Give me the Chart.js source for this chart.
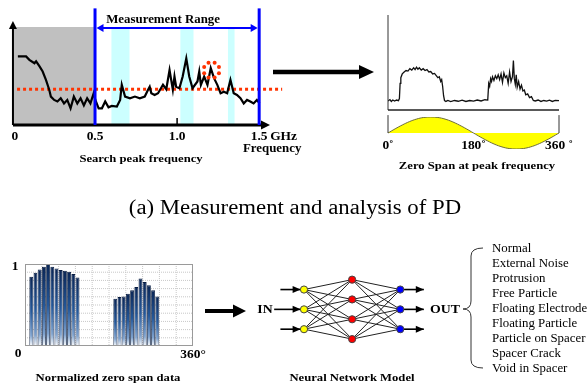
<!DOCTYPE html>
<html>
<head>
<meta charset="utf-8">
<script src="https://cdn.jsdelivr.net/npm/chart.js@4.4.1/dist/chart.umd.min.js"></script>
<style>
  body { margin: 0; background: #fff; }
  #page { position: relative; width: 587px; height: 383px; overflow: hidden; font-family: "Liberation Serif", "Times New Roman", serif; color: #000; }
  #page canvas, #page svg { position: absolute; }
  .lbl { position: absolute; white-space: nowrap; line-height: 1; transform: translate(-50%, -50%) scaleX(1.15); }
  .cap { font-weight: bold; font-size: 11px; }
  .cls { position: absolute; left: 492px; white-space: nowrap; line-height: 1; font-size: 12px; transform-origin: left center; transform: translateY(-50%) scaleX(1.07); }
</style>
</head>
<body>
<div id="page">
  <canvas id="spectrum" width="315" height="165" style="left:0;top:0"></canvas>
  <canvas id="zerospan" width="195" height="110" style="left:380px;top:5px"></canvas>
  <canvas id="phase" width="200" height="50" style="left:378px;top:108px"></canvas>
  <canvas id="normbars" width="205" height="102" style="left:5px;top:258px"></canvas>
  <canvas id="network" width="190" height="110" style="left:250px;top:255px"></canvas>
  <svg width="587" height="383" style="left:0;top:0">
    <line x1="273" y1="72" x2="362" y2="72" stroke="#000" stroke-width="4.5"/>
    <polygon points="374,72 359,65 359,79" fill="#000"/>
    <line x1="205" y1="311" x2="236" y2="311" stroke="#000" stroke-width="4"/>
    <polygon points="246,311 233,304.5 233,317.5" fill="#000"/>
    <path d="M483,248 Q471,248 471,256 L471,301 Q471,309 463,309 Q471,309 471,317 L471,360 Q471,368 483,368" fill="none" stroke="#333" stroke-width="1"/>
  </svg>
  <div class="lbl cap" style="left:141px;top:158px">Search peak frequency</div>
  <div class="lbl cap" style="left:477px;top:165px">Zero Span at peak frequency</div>
  <div class="lbl" style="left:295px;top:207px;font-size:20px;transform:translate(-50%,-50%) scaleX(1.14)">(a) Measurement and analysis of PD</div>
  <div class="lbl cap" style="left:108px;top:377px">Normalized zero span data</div>
  <div class="lbl cap" style="left:352px;top:377px">Neural Network Model</div>
  <div class="lbl cap" style="left:265px;top:309px;font-size:12px">IN</div>
  <div class="lbl cap" style="left:445px;top:309px;font-size:12px">OUT</div>
  <div id="classes"></div>
</div>
<script>
// --- search peak frequency spectrum (GHz, relative level) ---
const specFreq = [0.030, 0.080, 0.100, 0.131, 0.141, 0.161, 0.181, 0.201, 0.221, 0.231, 0.251, 0.271, 0.291, 0.311,
  0.331, 0.351, 0.371, 0.392, 0.412, 0.432, 0.452, 0.472, 0.492, 0.502, 0.522, 0.542, 0.562, 0.582, 0.602, 0.633,
  0.653, 0.663, 0.683, 0.713, 0.743, 0.773, 0.803, 0.823, 0.833, 0.843, 0.863, 0.884, 0.914, 0.934, 0.954, 0.964,
  0.974, 0.984, 0.994, 1.014, 1.034, 1.056, 1.074, 1.094, 1.124, 1.135, 1.145, 1.165, 1.185, 1.205, 1.225, 1.245,
  1.265, 1.285, 1.305, 1.325, 1.345, 1.365, 1.386, 1.406, 1.426, 1.446, 1.466, 1.486, 1.502];
const specAmp = [70, 70, 66.5, 63, 65, 60, 54.6, 46, 36, 29, 25.6, 24, 27.3, 22,
  25.6, 17, 29, 22, 27.3, 20, 27.3, 22, 32.4, 25.6, 17, 17, 24, 18, 19.5, 18.8,
  25.6, 41, 29, 27.3, 29, 27.3, 29, 36, 39, 32.4, 30.7, 32.4, 41, 36.5, 56, 46,
  36, 49.5, 39, 37.5, 49.5, 68, 49.5, 37.5, 44.4, 54.6, 41, 49.5, 41, 58, 47.8, 41,
  32.4, 34, 32.4, 46, 32.4, 30.7, 27.3, 22, 25.6, 24, 22, 25.6, 22];
const thresholdLevel = 36.5;
const thresholdFrom = 0.025, thresholdTo = 1.64;
const rangeStart = 0.5, rangeEnd = 1.5;
const bandStart = [0.60, 1.02, 1.31];
const bandEnd = [0.71, 1.10, 1.35];
const peakFreq = 1.21, peakLevel = 56;
const freqTicks = [0, 0.5, 1.0, 1.5];
const freqTickLabels = ['0', '0.5', '1.0', '1.5'];

// --- zero span trace at the peak frequency (phase deg, level) ---
const zsPhase = [0, 4, 7, 10, 14, 18, 22, 24, 25.5, 27, 30, 34, 38, 42, 46, 50, 54, 57, 60, 63, 66, 70, 74, 78, 82, 86,
  90, 94, 98, 102, 105, 108, 111, 113, 115, 117, 119, 122, 126, 132, 140, 148, 156, 164, 172, 180, 188, 196, 204,
  210, 212, 214, 216, 218, 220, 223, 226, 229, 232, 235, 238, 241, 244, 247, 250, 253, 256, 259, 262, 264, 266, 268,
  270, 272, 275, 278, 281, 284, 287, 290, 294, 298, 302, 306, 310, 316, 322, 328, 334, 340, 346, 352, 360];
const zsLevel = [9.5, 11, 9, 10.5, 9.5, 10.5, 9.8, 12, 28, 34, 38, 40, 41.5, 41, 43.5, 42, 44.5, 42.5, 45, 43, 44.5, 42,
  43.5, 41.5, 42.5, 40, 40.5, 38, 38.5, 36, 34, 35, 30, 32, 25, 15, 10, 9, 10, 8.8, 10, 9.2, 10.3, 9, 10, 9.4, 10.5,
  9.5, 10.8, 10.5, 28, 25, 33, 30, 35, 31, 36, 33, 37, 32, 38, 29, 39, 34, 36, 28, 40, 30, 35, 52, 33, 27, 37, 24,
  30, 22, 26, 20, 21, 16, 17, 13, 14, 10, 9.5, 10.5, 9, 10, 9.3, 10.4, 9, 10, 9.8];

// --- applied voltage phase reference ---
const refPhase = [0, 15, 30, 45, 60, 75, 90, 105, 120, 135, 150, 165, 180, 195, 210, 225, 240, 255, 270, 285, 300, 315, 330, 345, 360];
const refLevel = [0, 0.26, 0.5, 0.71, 0.87, 0.97, 1, 0.97, 0.87, 0.71, 0.5, 0.26, 0, -0.26, -0.5, -0.71, -0.87, -0.97, -1, -0.97, -0.87, -0.71, -0.5, -0.26, 0];
const phaseTicks = [0, 180, 360];
const phaseTickLabels = ['0\u02da', '180\u02da', '360 \u02da'];

// --- normalized zero span data, 40 bins of 9 deg ---
const binLabels = Array.from({ length: 40 }, (_, i) => (i * 9) + '\u00b0');
const normValues = [0, 0.844, 0.893, 0.934, 0.967, 1.0, 0.967, 0.946, 0.926, 0.918, 0.905, 0.877, 0.835, 0, 0, 0, 0, 0, 0, 0,
  0, 0.576, 0.597, 0.605, 0.638, 0.679, 0.72, 0.823, 0.782, 0.741, 0.679, 0.605, 0, 0, 0, 0, 0, 0, 0, 0];
const normGrid = [0.1, 0.2, 0.3, 0.4, 0.5, 0.6, 0.7, 0.8, 0.9];

// --- neural network ---
const layerX = [0, 1, 2];
const inputY = [1, 0, -1];
const hiddenY = [1.5, 0.5, -0.5, -1.5];
const outputY = [1, 0, -1];
const inArrowFrom = [-0.49, -0.62, -0.49];
const inArrowTo = -0.07;
const outArrowFrom = 2.07, outArrowTo = 2.49;
const defectClasses = ['Normal', 'External Noise', 'Protrusion', 'Free Particle', 'Floating Electrode',
  'Floating Particle', 'Particle on Spacer', 'Spacer Crack', 'Void in Spacer'];

const SX = 1.12;

function label(ctx, text, x, y, font, align) {
  ctx.save();
  ctx.font = font;
  ctx.fillStyle = '#000';
  ctx.textAlign = align || 'center';
  ctx.textBaseline = 'middle';
  ctx.translate(x, y);
  ctx.scale(SX, 1);
  ctx.fillText(text, 0, 0);
  ctx.restore();
}

function stroke(ctx, x1, y1, x2, y2, w, color, dash) {
  ctx.save();
  ctx.strokeStyle = color;
  ctx.lineWidth = w;
  if (dash) ctx.setLineDash(dash);
  ctx.beginPath();
  ctx.moveTo(x1, y1);
  ctx.lineTo(x2, y2);
  ctx.stroke();
  ctx.restore();
}

function head(ctx, x1, y1, x2, y2, len, half, color) {
  ctx.save();
  ctx.fillStyle = color;
  ctx.translate(x2, y2);
  ctx.rotate(Math.atan2(y2 - y1, x2 - x1));
  ctx.beginPath();
  ctx.moveTo(0, 0);
  ctx.lineTo(-len, -half);
  ctx.lineTo(-len, half);
  ctx.closePath();
  ctx.fill();
  ctx.restore();
}

function opts(xMin, xMax, yMin, yMax, pad) {
  return {
    responsive: false,
    animation: false,
    events: [],
    layout: { padding: pad },
    plugins: { legend: { display: false }, tooltip: { enabled: false } },
    scales: {
      x: { type: 'linear', display: false, min: xMin, max: xMax },
      y: { type: 'linear', display: false, min: yMin, max: yMax }
    }
  };
}

const pts = (xs, ys) => xs.map((x, i) => ({ x, y: ys[i] }));
const bold = 'bold 12px "Liberation Serif", serif';

// spectrum decorations: shaded areas, axes, measurement range
const spectrumDecor = {
  id: 'spectrumDecor',
  beforeDatasetsDraw(chart) {
    const { ctx, scales: { x, y } } = chart;
    ctx.save();
    ctx.fillStyle = '#c0c0c0';
    ctx.fillRect(x.getPixelForValue(0), y.getPixelForValue(100),
      x.getPixelForValue(rangeStart) - x.getPixelForValue(0), y.getPixelForValue(0) - y.getPixelForValue(100));
    ctx.fillStyle = '#ccffff';
    bandStart.forEach((b, i) => {
      ctx.fillRect(x.getPixelForValue(b), y.getPixelForValue(98),
        x.getPixelForValue(bandEnd[i]) - x.getPixelForValue(b), y.getPixelForValue(0) - y.getPixelForValue(98));
    });
    ctx.restore();
  },
  afterDatasetsDraw(chart) {
    const { ctx, chartArea, scales: { x, y } } = chart;
    const x0 = x.getPixelForValue(0), y0 = y.getPixelForValue(0);
    // axes
    stroke(ctx, x0, y0, chartArea.right - 6, y0, 3, '#000');
    head(ctx, x0, y0, chartArea.right, y0, 9, 4.5, '#000');
    stroke(ctx, x0, y0, x0, y.getPixelForValue(106) + 6, 2, '#000');
    head(ctx, x0, y0, x0, y.getPixelForValue(106), 8, 4, '#000');
    stroke(ctx, x.getPixelForValue(1.0), y0, x.getPixelForValue(1.0), y0 - 7, 1.5, '#000');
    // measurement range
    const xa = x.getPixelForValue(rangeStart), xb = x.getPixelForValue(rangeEnd);
    const yTop = y.getPixelForValue(119), yArr = y.getPixelForValue(99);
    stroke(ctx, xa, y0, xa, yTop, 3, '#0000ff');
    stroke(ctx, xb, y0, xb, yTop, 3, '#0000ff');
    stroke(ctx, xa + 6, yArr, xb - 6, yArr, 2, '#0000ff');
    head(ctx, xb, yArr, xa + 1.5, yArr, 7, 4, '#0000ff');
    head(ctx, xa, yArr, xb - 1.5, yArr, 7, 4, '#0000ff');
    label(ctx, 'Measurement Range', (xa + xb) / 2 - 14, yArr - 8, 'bold 11.5px "Liberation Serif", serif');
    // detected peak ring
    const cx = x.getPixelForValue(peakFreq), cy = y.getPixelForValue(peakLevel);
    ctx.save();
    ctx.fillStyle = '#ff3300';
    for (let k = 0; k < 8; k++) {
      const a = k * Math.PI / 4 + Math.PI / 8;
      ctx.beginPath();
      ctx.arc(cx + 8 * Math.cos(a), cy + 8 * Math.sin(a), 2, 0, Math.PI * 2);
      ctx.fill();
    }
    ctx.restore();
    // tick labels
    freqTicks.forEach((t, i) => {
      const px = x.getPixelForValue(t);
      label(ctx, freqTickLabels[i], t === 0 ? px + 2 : px, y0 + 12, bold);
      if (i === freqTicks.length - 1) label(ctx, 'GHz', px + 11, y0 + 12, bold, 'left');
    });
    label(ctx, 'Frequency', x.getPixelForValue(rangeEnd) + 13, y0 + 24, 'bold 11.5px "Liberation Serif", serif');
  }
};

new Chart(document.getElementById('spectrum'), {
  type: 'scatter',
  data: {
    datasets: [
      { data: pts(specFreq, specAmp), showLine: true, borderColor: '#000', borderWidth: 2.2, pointRadius: 0 },
      { data: [{ x: thresholdFrom, y: thresholdLevel }, { x: thresholdTo, y: thresholdLevel }], showLine: true,
        borderColor: '#ff3300', borderWidth: 3, borderDash: [3, 3], pointRadius: 0, clip: false }
    ]
  },
  options: opts(-0.018, 1.566, 0, 100, { left: 10, right: 45, top: 27, bottom: 40 }),
  plugins: [spectrumDecor]
});

// zero span trace
const zeroSpanAxes = {
  id: 'zeroSpanAxes',
  afterDatasetsDraw(chart) {
    const { ctx, scales: { x, y } } = chart;
    stroke(ctx, x.getPixelForValue(0), y.getPixelForValue(0), x.getPixelForValue(0), y.getPixelForValue(100), 1, '#333');
    stroke(ctx, x.getPixelForValue(0), y.getPixelForValue(0), x.getPixelForValue(360), y.getPixelForValue(0), 1.5, '#222');
  }
};

new Chart(document.getElementById('zerospan'), {
  type: 'scatter',
  data: { datasets: [{ data: pts(zsPhase, zsLevel), showLine: true, borderColor: '#111', borderWidth: 1.3, pointRadius: 0 }] },
  options: opts(0, 360, 0, 100, { left: 8, right: 16, top: 10, bottom: 5 }),
  plugins: [zeroSpanAxes]
});

// phase reference
const phaseDecor = {
  id: 'phaseDecor',
  afterDatasetsDraw(chart) {
    const { ctx, chartArea, scales: { x, y } } = chart;
    [0, 360].forEach(p => stroke(ctx, x.getPixelForValue(p), y.getPixelForValue(0), x.getPixelForValue(p), y.getPixelForValue(1.12), 1, '#333'));
    phaseTicks.forEach((p, i) => label(ctx, phaseTickLabels[i], x.getPixelForValue(p), chartArea.bottom - 3, bold));
  }
};

new Chart(document.getElementById('phase'), {
  type: 'line',
  data: { datasets: [{ data: pts(refPhase, refLevel), borderColor: '#6b6b3a', borderWidth: 1, backgroundColor: '#ffff00',
    fill: 'origin', tension: 0.4, pointRadius: 0 }] },
  options: opts(0, 360, -1, 1, { left: 10, right: 19, top: 9, bottom: 9 }),
  plugins: [phaseDecor]
});

// normalized bars
const barGrid = {
  id: 'barGrid',
  beforeDatasetsDraw(chart) {
    const { ctx, chartArea: a, scales: { x, y } } = chart;
    normGrid.forEach(v => stroke(ctx, a.left, y.getPixelForValue(v), a.right, y.getPixelForValue(v), 1, '#c8c8c8', [1, 1]));
    for (let i = 4; i < binLabels.length; i += 4) {
      const px = (x.getPixelForValue(i - 1) + x.getPixelForValue(i)) / 2;
      stroke(ctx, px, a.top, px, a.bottom, 1, '#c8c8c8', [1, 1]);
    }
  },
  afterDatasetsDraw(chart) {
    const { ctx, chartArea: a, scales: { y } } = chart;
    ctx.save();
    ctx.strokeStyle = '#9a9a9a';
    ctx.lineWidth = 1;
    ctx.strokeRect(a.left + 0.5, a.top + 0.5, a.right - a.left - 1, a.bottom - a.top - 1);
    ctx.restore();
    label(ctx, '1', a.left - 10, y.getPixelForValue(1) + 3, bold);
    label(ctx, '0', a.left - 7, a.bottom + 8, bold);
    label(ctx, '360\u00b0', a.right, a.bottom + 9, bold);
  }
};

new Chart(document.getElementById('normbars'), {
  type: 'bar',
  data: {
    labels: binLabels,
    datasets: [{
      data: normValues,
      categoryPercentage: 0.93,
      barPercentage: 1,
      borderColor: '#081c40',
      borderWidth: { left: 0.8, right: 0.8, top: 1, bottom: 0 },
      backgroundColor(c) {
        const area = c.chart.chartArea;
        if (!area || c.type !== 'data') return '#2a5a96';
        const top = c.chart.scales.y.getPixelForValue(c.raw);
        const g = c.chart.ctx.createLinearGradient(0, top, 0, area.bottom);
        g.addColorStop(0, '#0a2555');
        g.addColorStop(0.5, '#24589a');
        g.addColorStop(0.85, '#7fa3cf');
        g.addColorStop(1, '#ffffff');
        return g;
      }
    }]
  },
  options: {
    ...opts(0, 1, 0, 1, { left: 20, right: 17, top: 6, bottom: 14 }),
    scales: {
      x: { type: 'category', display: false },
      y: { type: 'linear', display: false, min: 0, max: 1 }
    }
  },
  plugins: [barGrid]
});

// neural network
const nodes = (lx, ys) => ys.map(y => ({ x: lx, y }));
const edgeSets = [];
inputY.forEach(a => hiddenY.forEach(b => edgeSets.push([{ x: layerX[0], y: a }, { x: layerX[1], y: b }])));
hiddenY.forEach(a => outputY.forEach(b => edgeSets.push([{ x: layerX[1], y: a }, { x: layerX[2], y: b }])));
const arrowSets = inputY.map((yv, i) => [{ x: inArrowFrom[i], y: yv }, { x: inArrowTo, y: yv }])
  .concat(outputY.map(yv => [{ x: outArrowFrom, y: yv }, { x: outArrowTo, y: yv }]));

const arrowHeads = {
  id: 'arrowHeads',
  afterDatasetsDraw(chart) {
    chart.data.datasets.forEach((ds, i) => {
      if (!ds.arrow) return;
      const el = chart.getDatasetMeta(i).data;
      head(chart.ctx, el[0].x, el[0].y, el[1].x, el[1].y, 8, 3.5, '#000');
    });
  }
};

new Chart(document.getElementById('network'), {
  type: 'scatter',
  data: {
    datasets: [
      { data: nodes(layerX[0], inputY), pointRadius: 3.6, pointBackgroundColor: '#ffff00', pointBorderColor: '#444', pointBorderWidth: 1 },
      { data: nodes(layerX[1], hiddenY), pointRadius: 3.6, pointBackgroundColor: '#ff0000', pointBorderColor: '#444', pointBorderWidth: 1 },
      { data: nodes(layerX[2], outputY), pointRadius: 3.6, pointBackgroundColor: '#0000ff', pointBorderColor: '#444', pointBorderWidth: 1 },
      ...arrowSets.map(d => ({ data: d, arrow: true, showLine: true, borderColor: '#000', borderWidth: 1.6, pointRadius: 0 })),
      ...edgeSets.map(d => ({ data: d, showLine: true, borderColor: '#222', borderWidth: 1, pointRadius: 0 }))
    ]
  },
  options: opts(-1.018, 2.722, -2.555, 2.491, 0),
  plugins: [arrowHeads]
});

// class list next to the brace
const list = document.getElementById('classes');
defectClasses.forEach((name, i) => {
  const d = document.createElement('div');
  d.className = 'cls';
  d.style.top = (248 + i * 15) + 'px';
  d.textContent = name;
  list.appendChild(d);
});
</script>
</body>
</html>
